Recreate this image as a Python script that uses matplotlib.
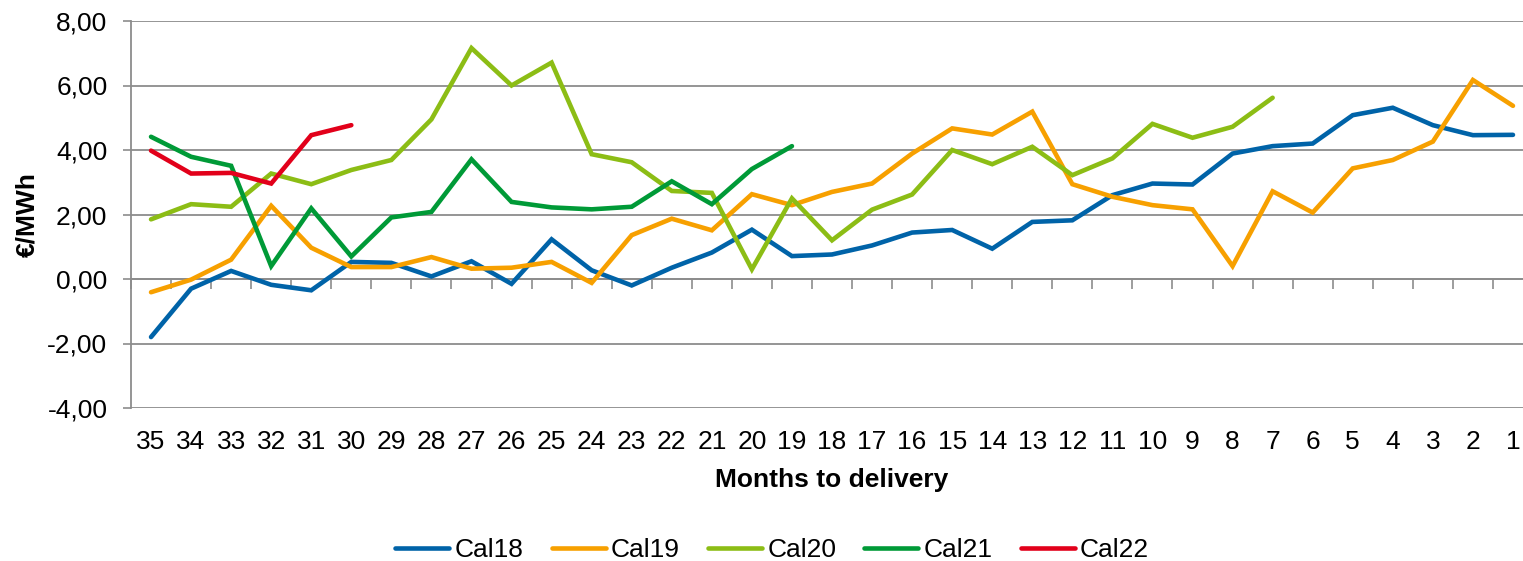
import numpy as np
import matplotlib.pyplot as plt

plt.rcParams['font.family'] = ['Liberation Sans', 'DejaVu Sans']

months = [str(m) for m in range(35, 0, -1)]

cal18 = [-1.80, -0.30, 0.25, -0.18, -0.35, 0.53, 0.50, 0.08, 0.55, -0.15,
         1.23, 0.27, -0.20, 0.35, 0.82, 1.53, 0.71, 0.76, 1.04, 1.44,
         1.52, 0.94, 1.77, 1.82, 2.60, 2.96, 2.93, 3.89, 4.12, 4.20,
         5.08, 5.31, 4.77, 4.46, 4.47]
cal19 = [-0.41, -0.02, 0.60, 2.27, 0.97, 0.37, 0.37, 0.68, 0.32, 0.35,
         0.53, -0.12, 1.36, 1.87, 1.51, 2.63, 2.29, 2.70, 2.96, 3.89,
         4.67, 4.48, 5.19, 2.94, 2.55, 2.29, 2.16, 0.40, 2.72, 2.06,
         3.43, 3.69, 4.26, 6.17, 5.37]
cal20 = [1.85, 2.32, 2.24, 3.27, 2.94, 3.38, 3.69, 4.95, 7.16, 6.00,
         6.71, 3.87, 3.62, 2.73, 2.67, 0.30, 2.50, 1.20, 2.15, 2.62,
         4.00, 3.56, 4.10, 3.22, 3.74, 4.81, 4.38, 4.72, 5.62]
cal21 = [4.41, 3.79, 3.51, 0.40, 2.19, 0.70, 1.91, 2.08, 3.71, 2.39,
         2.22, 2.16, 2.24, 3.03, 2.32, 3.41, 4.12]
cal22 = [3.98, 3.27, 3.29, 2.96, 4.46, 4.77]

series = [('Cal18', cal18, '#0063a8'), ('Cal19', cal19, '#f7a000'),
          ('Cal20', cal20, '#8cbd15'), ('Cal21', cal21, '#009a37'),
          ('Cal22', cal22, '#e2001a')]

grid_c = '#8c8c8c'
fs = 19

fig = plt.figure(figsize=(15.23, 5.61), dpi=100)
ax = fig.add_axes([131/1523, 153/561, 1402/1523, 387/561])

for name, vals, col in series:
    ax.plot(np.arange(len(vals)), vals, color=col, lw=3.3, label=name,
            solid_capstyle='round', solid_joinstyle='miter')

ax.set_xlim(-0.5, 34.5)
ax.set_ylim(-4, 8)
ax.set_yticks(np.arange(-4, 9, 2))
ax.set_yticklabels([f'{v:.2f}'.replace('.', ',') for v in np.arange(-4, 9, 2)])
ax.set_xticks(np.arange(35))
ax.set_xticklabels(months)
ax.tick_params(axis='x', length=0, pad=16, labelsize=fs)
ax.tick_params(axis='y', length=6, width=1.2, color=grid_c, pad=11, labelsize=fs)
ax.grid(axis='y', color=grid_c, lw=1.3)
ax.set_axisbelow(True)
for s in ['top', 'right', 'bottom']:
    ax.spines[s].set_visible(False)
ax.spines['left'].set_color(grid_c)
ax.spines['left'].set_linewidth(1.3)

# axis line at zero with category boundary ticks
sec = ax.secondary_xaxis(1/3)
sec.set_xticks(np.arange(-0.5, 35, 1))
sec.set_xticklabels([])
sec.tick_params(length=7, width=1.2, color=grid_c, direction='out')
sec.spines['bottom'].set_color(grid_c)
sec.spines['bottom'].set_linewidth(1.3)

ax.set_xlabel('Months to delivery', fontsize=fs, fontweight='bold')
ax.xaxis.label.set_va('center')
ax.xaxis.set_label_coords(0.5, -0.186)
ax.set_ylabel('€/MWh', fontsize=fs, fontweight='bold')
ax.yaxis.label.set_va('center')
ax.yaxis.set_label_coords(-0.074, 0.5)

fig.legend(loc='center', bbox_to_anchor=(0.507, 0.019), ncol=5, frameon=False,
           fontsize=fs, handlelength=2.05, handletextpad=0.2, columnspacing=1.06)

fig.savefig('out.png', dpi=100)
